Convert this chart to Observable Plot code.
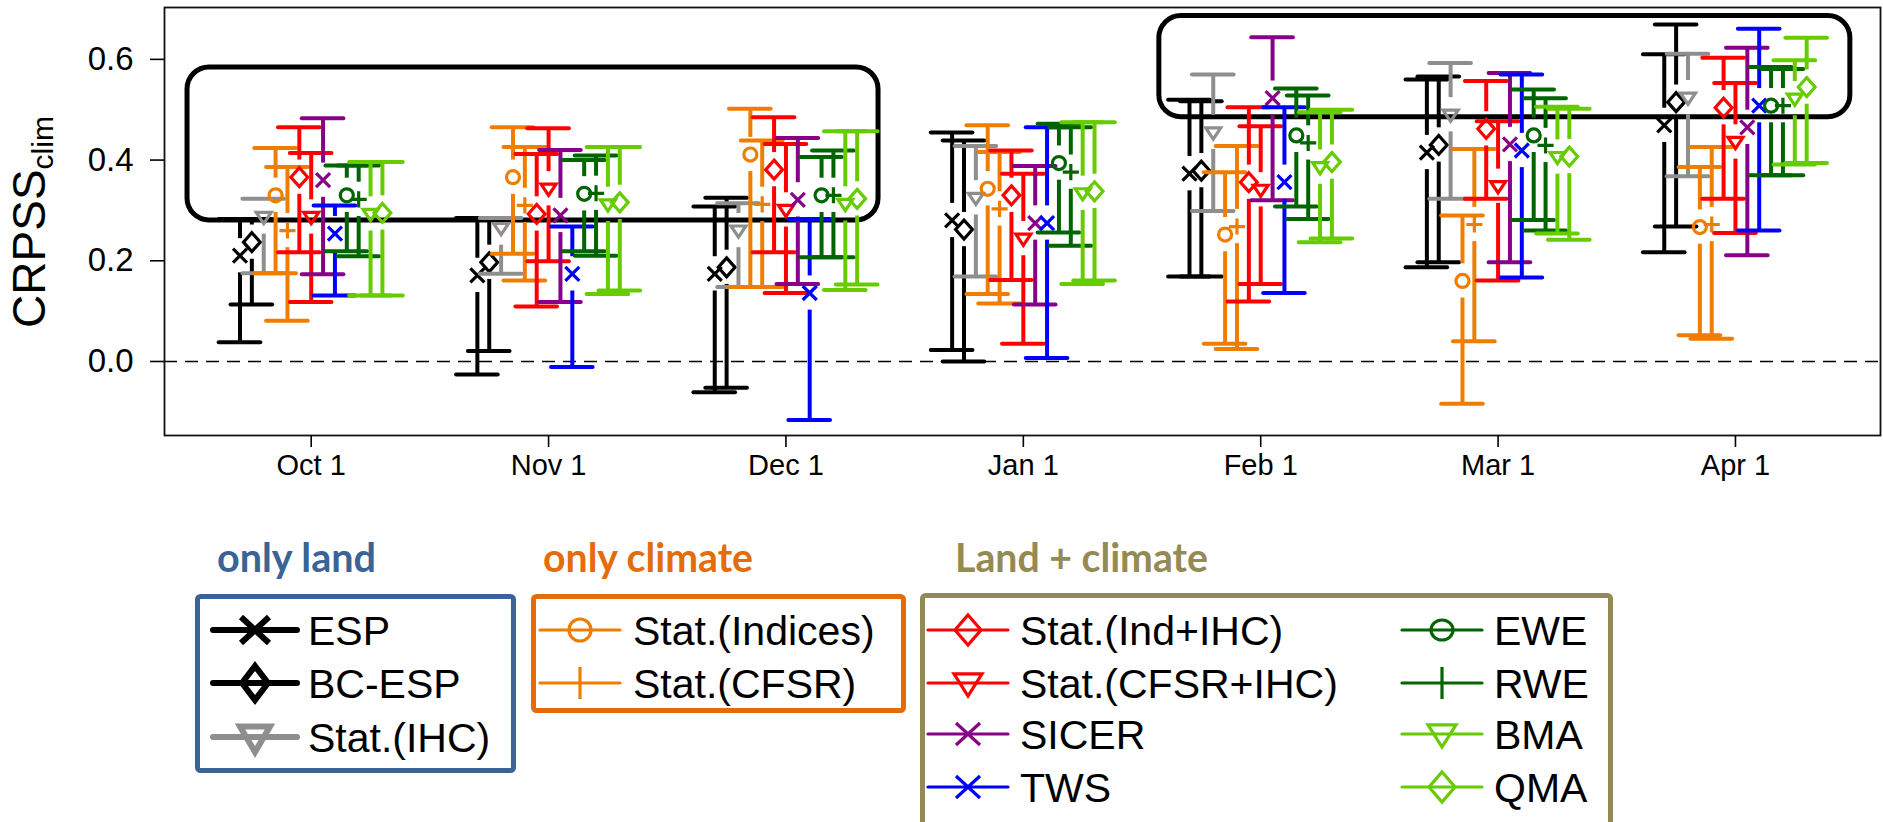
<!DOCTYPE html>
<html><head><meta charset="utf-8">
<script src="https://cdn.jsdelivr.net/npm/d3@7"></script>
<script src="https://cdn.jsdelivr.net/npm/@observablehq/plot@0.6"></script>
<style>
body{margin:0;background:#fff;width:1883px;height:822px;overflow:hidden;position:relative;font-family:"Liberation Sans",Arial,sans-serif;}
#chart{position:absolute;left:0;top:0;}
#legend{position:absolute;left:0;top:0;pointer-events:none;}
</style></head><body>
<div id="chart"></div>
<svg id="legend" width="1883" height="822"></svg>
<script>
// ---------- data ----------
const months = ["Oct 1","Nov 1","Dec 1","Jan 1","Feb 1","Mar 1","Apr 1"];
const yTicks = [0, 0.2, 0.4, 0.6];

const seriesNames = ["ESP","BC-ESP","Stat.(IHC)","Stat.(Indices)","Stat.(CFSR)","Stat.(Ind+IHC)","Stat.(CFSR+IHC)","SICER","TWS","EWE","RWE","BMA","QMA"];
const seriesColors = ["#000000","#000000","#8e8e8e","#ef7d00","#ef7d00","#ff0000","#ff0000","#870087","#0000ff","#006400","#006400","#66cc00","#66cc00"];
const seriesSymbols = ["times","diamond","tridown","circle","plus","diamond","tridown","times","times","circle","plus","tridown","diamond"];

// [lower, median, upper] per month (Oct..Apr)
const ESP        = [[0.038,0.210,0.283],[-0.026,0.171,0.285],[-0.061,0.174,0.308],[0.023,0.280,0.455],[0.169,0.373,0.520],[0.187,0.415,0.560],[0.217,0.469,0.610]];
const BC_ESP     = [[0.113,0.237,0.283],[0.021,0.197,0.282],[-0.052,0.187,0.325],[0.000,0.262,0.439],[0.169,0.379,0.517],[0.197,0.430,0.566],[0.268,0.515,0.669]];
const STAT_IHC   = [[0.175,0.287,0.323],[0.174,0.265,0.285],[0.148,0.260,0.314],[0.169,0.325,0.428],[0.299,0.455,0.570],[0.323,0.490,0.593],[0.368,0.524,0.611]];
const STAT_IND   = [[0.175,0.330,0.424],[0.214,0.366,0.465],[0.148,0.411,0.502],[0.134,0.343,0.469],[0.035,0.252,0.376],[-0.084,0.160,0.290],[0.052,0.267,0.386]];
const STAT_CFSR  = [[0.081,0.260,0.386],[0.161,0.310,0.426],[0.148,0.312,0.439],[0.115,0.303,0.416],[0.025,0.268,0.428],[0.040,0.272,0.422],[0.045,0.272,0.426]];
const STAT_INDIHC= [[0.217,0.366,0.465],[0.109,0.293,0.412],[0.217,0.381,0.485],[0.162,0.330,0.419],[0.119,0.356,0.505],[0.323,0.462,0.557],[0.323,0.504,0.603]];
const STAT_CFSRIHC=[[0.118,0.287,0.414],[0.199,0.343,0.463],[0.136,0.301,0.432],[0.035,0.244,0.373],[0.154,0.341,0.467],[0.161,0.348,0.477],[0.255,0.436,0.553]];
const SICER      = [[0.173,0.360,0.483],[0.118,0.290,0.420],[0.154,0.321,0.444],[0.113,0.275,0.388],[0.320,0.523,0.644],[0.197,0.431,0.573],[0.211,0.465,0.623]];
const TWS        = [[0.131,0.254,0.310],[-0.011,0.174,0.268],[-0.116,0.136,0.283],[0.007,0.275,0.465],[0.136,0.356,0.505],[0.167,0.419,0.570],[0.260,0.508,0.661]];
const EWE        = [[0.219,0.330,0.389],[0.219,0.333,0.400],[0.207,0.330,0.406],[0.256,0.394,0.472],[0.308,0.449,0.542],[0.281,0.449,0.540],[0.370,0.508,0.585]];
const RWE        = [[0.209,0.322,0.389],[0.210,0.334,0.409],[0.207,0.330,0.419],[0.230,0.376,0.465],[0.283,0.434,0.528],[0.260,0.429,0.523],[0.370,0.508,0.581]];
const BMA        = [[0.131,0.293,0.396],[0.134,0.312,0.426],[0.142,0.313,0.457],[0.154,0.334,0.475],[0.237,0.386,0.495],[0.254,0.406,0.506],[0.391,0.522,0.598]];
const QMA        = [[0.131,0.295,0.396],[0.141,0.316,0.426],[0.153,0.323,0.457],[0.161,0.338,0.475],[0.244,0.396,0.500],[0.242,0.407,0.502],[0.394,0.545,0.643]];
const seriesData = [ESP,BC_ESP,STAT_IHC,STAT_IND,STAT_CFSR,STAT_INDIHC,STAT_CFSRIHC,SICER,TWS,EWE,RWE,BMA,QMA];

// highlighted regions (rounded boxes), in month-index / CRPSS units
const boxX1 = [-0.521, 3.573];
const boxX2 = [2.390, 6.484];
const boxY1 = [0.280, 0.485];
const boxY2 = [0.584, 0.686];

// ---------- styling constants ----------
const dodge = 0.05;      // month units between neighbouring series
const capHalf = 0.0877;  // month units
const gap = 0.034;       // CRPSS units left empty around each marker

function makeSymbol(kind){
  return {draw(c, size){
    const h = Math.sqrt(size/Math.PI);
    if(kind==="times"){c.moveTo(-h,-h);c.lineTo(h,h);c.moveTo(h,-h);c.lineTo(-h,h);}
    else if(kind==="plus"){c.moveTo(-h*1.15,0);c.lineTo(h*1.15,0);c.moveTo(0,-h*1.15);c.lineTo(0,h*1.15);}
    else if(kind==="diamond"){c.moveTo(0,-h*1.35);c.lineTo(h*1.2,0);c.lineTo(0,h*1.35);c.lineTo(-h*1.2,0);c.closePath();}
    else if(kind==="circle"){const r=h*0.93;c.moveTo(r,0);c.arc(0,0,r,0,2*Math.PI);}
    else if(kind==="tridown"){c.moveTo(-h*1.07,-h*0.65);c.lineTo(h*1.07,-h*0.65);c.lineTo(0,h*0.95);c.closePath();}
  }};
}

const marks = [];
marks.push(Plot.rect(boxX1.map((d,i)=>i), {x1:i=>boxX1[i], x2:i=>boxX2[i], y1:i=>boxY1[i], y2:i=>boxY2[i], rx:22, fill:"none", stroke:"black", strokeWidth:5}));
marks.push(Plot.ruleY([0], {stroke:"black", strokeWidth:1.6, strokeDasharray:"13,8"}));

seriesData.forEach((arr, s) => {
  const rows = arr.map(([lo,med,hi], m) => ({x: m + (s-6)*dodge, lo, med, hi}));
  const color = seriesColors[s];
  const lower = rows.filter(d => d.med - gap > d.lo);
  const upper = rows.filter(d => d.med + gap < d.hi);
  marks.push(Plot.ruleX(lower, {x:"x", y1:"lo", y2:d=>d.med-gap, stroke:color, strokeWidth:4}));
  marks.push(Plot.ruleX(upper, {x:"x", y1:d=>d.med+gap, y2:"hi", stroke:color, strokeWidth:4}));
  marks.push(Plot.ruleY(rows, {y:"lo", x1:d=>d.x-capHalf, x2:d=>d.x+capHalf, stroke:color, strokeWidth:4, strokeLinecap:"round"}));
  marks.push(Plot.ruleY(rows, {y:"hi", x1:d=>d.x-capHalf, x2:d=>d.x+capHalf, stroke:color, strokeWidth:4, strokeLinecap:"round"}));
  marks.push(Plot.dot(rows, {x:"x", y:"med", symbol:makeSymbol(seriesSymbols[s]), r:7, fill:"none", stroke:color, strokeWidth:3.2}));
});

marks.push(Plot.frame({stroke:"#111", strokeWidth:1.8}));
marks.push(Plot.axisY({ticks:yTicks, tickFormat:d3.format(".1f"), tickSize:14, tickPadding:17, fontSize:33, label:null, strokeWidth:1.6}));
marks.push(Plot.axisX({ticks:d3.range(months.length), tickFormat:i=>months[i], tickSize:12, tickPadding:7, fontSize:29, label:null, strokeWidth:1.6}));

const plot = Plot.plot({
  width:1883, height:500,
  marginLeft:164, marginRight:3, marginTop:7, marginBottom:65,
  x:{domain:[-0.618, 6.611]},
  y:{domain:[-0.147, 0.703]},
  style:{fontFamily:'"Liberation Sans", Arial, sans-serif', background:"white", color:"black", overflow:"visible"},
  marks
});
document.getElementById("chart").appendChild(plot);

// y-axis title with subscript
const ylab = d3.select(plot).append("text")
  .attr("transform","translate(45,222) rotate(-90)")
  .attr("text-anchor","middle")
  .attr("font-family",'"Liberation Sans", Arial, sans-serif')
  .attr("font-size",46).attr("fill","black");
ylab.append("tspan").text("CRPSS");
ylab.append("tspan").attr("font-size",30).attr("dy",8).text("clim");

// ---------- legend ----------
const L = d3.select("#legend");
const titleFont = 'Lato, "Open Sans", sans-serif';
const groupTitles = ["only land","only climate","Land + climate"];
const groupColors = ["#3b6496","#e46c0a","#948a54"];
const titleX = [217, 543, 955], titleW = [159, 210, 253];
groupTitles.forEach((t,i)=>{
  L.append("text").attr("x",titleX[i]).attr("y",572).attr("font-family",titleFont).attr("font-weight","bold")
   .attr("font-size",40).attr("fill",groupColors[i]).attr("textLength",titleW[i]).attr("lengthAdjust","spacingAndGlyphs").text(t);
});
const boxes = [[197.5,596.5,316,174],[533.5,596.5,370,114],[922.5,595.5,688,230]];
boxes.forEach((b,i)=>{
  L.append("rect").attr("x",b[0]).attr("y",b[1]).attr("width",b[2]).attr("height",b[3]).attr("rx",3)
   .attr("fill","none").attr("stroke",groupColors[i]).attr("stroke-width",5);
});

function legendSym(kind, cx, cy, hx, hy){
  if(kind==="times") return `M${cx-hx},${cy-hy}L${cx+hx},${cy+hy}M${cx+hx},${cy-hy}L${cx-hx},${cy+hy}`;
  if(kind==="plus") return `M${cx},${cy-hy}L${cx},${cy+hy}`;
  if(kind==="diamond") return `M${cx},${cy-hy}L${cx+hx},${cy}L${cx},${cy+hy}L${cx-hx},${cy}Z`;
  if(kind==="circle") return `M${cx+hx},${cy}A${hx},${hy} 0 1,1 ${cx-hx},${cy}A${hx},${hy} 0 1,1 ${cx+hx},${cy}Z`;
  if(kind==="tridown") return `M${cx-hx},${cy-hy*0.7}L${cx+hx},${cy-hy*0.7}L${cx},${cy+hy}Z`;
}
// legend layout: [series index, line x1, line x2, text x, row y, line width, marker hx, hy]
const legendItems = [
  [0,213,297,308,630,6,14,13],[1,213,297,308,683,6,13,17],[2,213,297,308,737,6,15,15],
  [3,540,620,633,630,3.2,11,11],[4,540,620,633,683,3.2,0,16],
  [5,928,1008,1020,630,3.2,13,15],[6,928,1008,1020,683,3.2,14,13],[7,928,1008,1020,734,3.2,12,11],[8,928,1008,1020,787,3.2,12,11],
  [9,1402,1482,1494,630,3.2,11,10],[10,1402,1482,1494,683,3.2,0,16],[11,1402,1482,1494,734,3.2,14,13],[12,1402,1482,1494,787,3.2,13,15]
];
legendItems.forEach(([s,x1,x2,tx,y,lw,hx,hy])=>{
  const c = seriesColors[s];
  L.append("line").attr("x1",x1).attr("x2",x2).attr("y1",y).attr("y2",y).attr("stroke",c).attr("stroke-width",lw).attr("stroke-linecap","round");
  L.append("path").attr("d",legendSym(seriesSymbols[s],(x1+x2)/2,y,hx,hy)).attr("fill","none").attr("stroke",c).attr("stroke-width",lw).attr("stroke-linejoin","miter");
  L.append("text").attr("x",tx).attr("y",y+14.5).attr("font-size",41).attr("fill","black")
   .attr("font-family",'"Liberation Sans", Arial, sans-serif').text(seriesNames[s]);
});
</script></body></html>
